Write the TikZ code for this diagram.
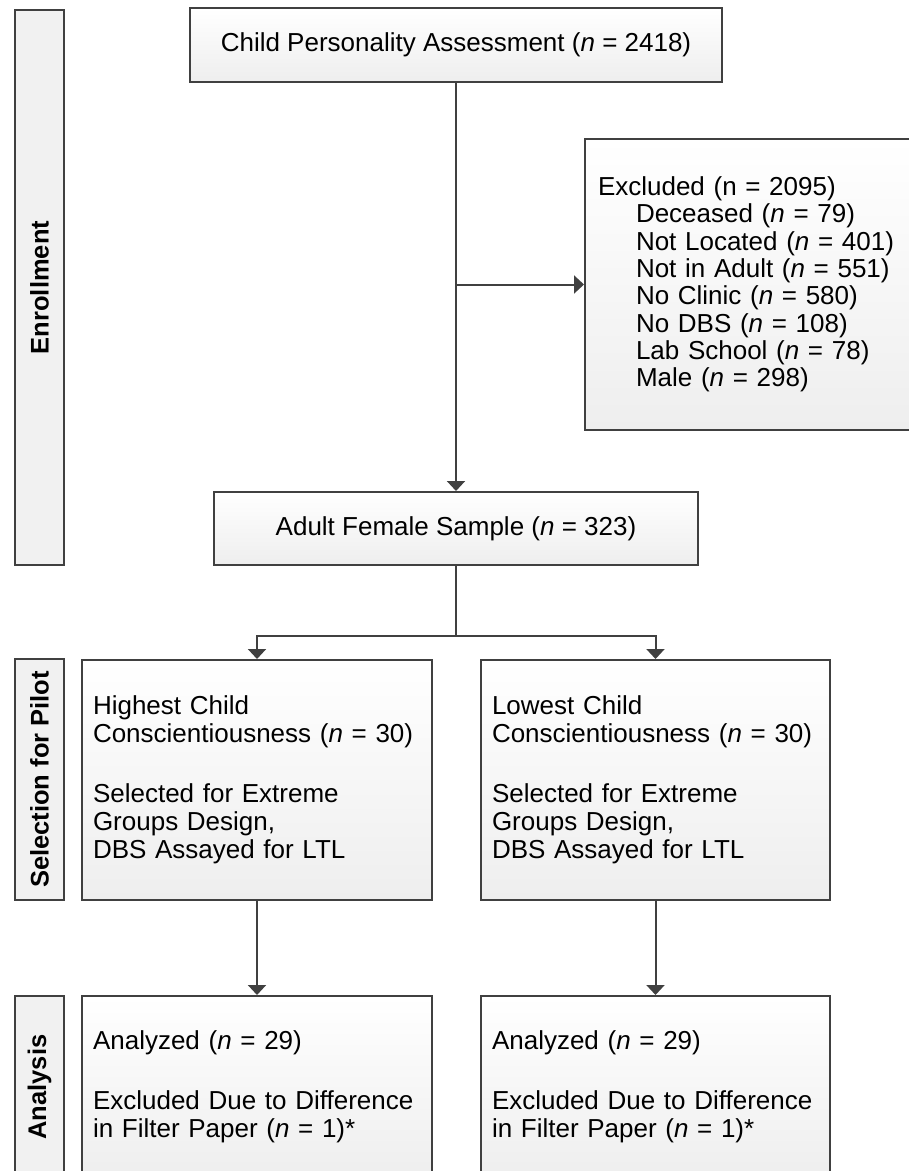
\documentclass[tikz,border=0pt]{standalone}
\usepackage{fontspec}
\setmainfont{Liberation Sans}
\usetikzlibrary{arrows.meta}
\definecolor{linec}{RGB}{64,64,64}
\definecolor{boxbot}{RGB}{238,238,238}
\definecolor{sidefill}{RGB}{241,241,241}
\tikzset{
  flowbox/.style={draw=linec, line width=2pt, top color=white, bottom color=boxbot,
    rectangle, inner sep=0pt, font=\fontsize{26}{28}\selectfont},
  sidebox/.style={draw=linec, line width=2pt, fill=sidefill, rectangle, rotate=90,
    minimum height=49pt, inner sep=0pt, font=\bfseries\fontsize{25.5}{28}\selectfont},
  arr/.style={draw=linec, line width=2pt, -{Triangle[width=18pt,length=10pt]}},
  conn/.style={draw=linec, line width=2pt},
}
\begin{document}
\begin{tikzpicture}[x=1pt,y=-1pt]
\useasboundingbox (0,0) rectangle (909,1171);
\clip (0,0) rectangle (909,1171);
\fill[white] (0,0) rectangle (909,1171);

% side labels
\node[sidebox, minimum width=555pt] (enr) at (39.5,287.5) {Enrollment};
\node[sidebox, minimum width=241pt] (sel) at (39.5,779.5) {Selection for Pilot};
\node[sidebox, minimum width=182pt] (ana) at (39.5,1087) {Analysis};

% main boxes
\node[flowbox, minimum width=532pt, minimum height=74pt] (top) at (456,45)
  {Child Personality Assessment (\textit{n} = 2418)};
\node[flowbox, minimum width=327pt, minimum height=291pt, text width=301pt,
  inner xsep=13pt, align=left, font=\fontsize{26}{27.3}\selectfont] (excl) at (748.5,284.5)
  {Excluded (n = 2095)\\
   \hspace*{38pt}Deceased (\textit{n} = 79)\\
   \hspace*{38pt}Not Located (\textit{n} = 401)\\
   \hspace*{38pt}Not in Adult (\textit{n} = 551)\\
   \hspace*{38pt}No Clinic (\textit{n} = 580)\\
   \hspace*{38pt}No DBS (\textit{n} = 108)\\
   \hspace*{38pt}Lab School (\textit{n} = 78)\\
   \hspace*{38pt}Male (\textit{n} = 298)};
\node[flowbox, minimum width=484pt, minimum height=73pt] (adult) at (456,528.5)
  {Adult Female Sample (\textit{n} = 323)};

\node[flowbox, minimum width=350pt, minimum height=240pt, text width=328pt,
  inner xsep=11pt, align=left] (hi) at (257,780)
  {Highest Child\\Conscientiousness (\textit{n} = 30)\\[32pt]Selected for Extreme\\Groups Design,\\DBS Assayed for LTL};
\node[flowbox, minimum width=349pt, minimum height=240pt, text width=327pt,
  inner xsep=11pt, align=left] (lo) at (655.5,780)
  {Lowest Child\\Conscientiousness (\textit{n} = 30)\\[32pt]Selected for Extreme\\Groups Design,\\DBS Assayed for LTL};

\node[flowbox, minimum width=350pt, minimum height=182pt, text width=328pt,
  inner xsep=11pt, align=left] (hiA) at (257,1087)
  {Analyzed (\textit{n} = 29)\\[32pt]Excluded Due to Difference\\in Filter Paper (\textit{n} = 1)*};
\node[flowbox, minimum width=349pt, minimum height=182pt, text width=327pt,
  inner xsep=11pt, align=left] (loA) at (655.5,1087)
  {Analyzed (\textit{n} = 29)\\[32pt]Excluded Due to Difference\\in Filter Paper (\textit{n} = 1)*};

% connectors
\draw[arr] (top.south) -- (adult.north);
\draw[arr] (top.south |- excl.west) -- (excl.west);
\coordinate (split) at (456,636);
\draw[conn] (adult.south) -- (split);
\draw[arr] (split) -| (hi.north);
\draw[arr] (split) -| (lo.north);
\draw[arr] (hi.south) -- (hiA.north);
\draw[arr] (lo.south) -- (loA.north);
\end{tikzpicture}
\end{document}
